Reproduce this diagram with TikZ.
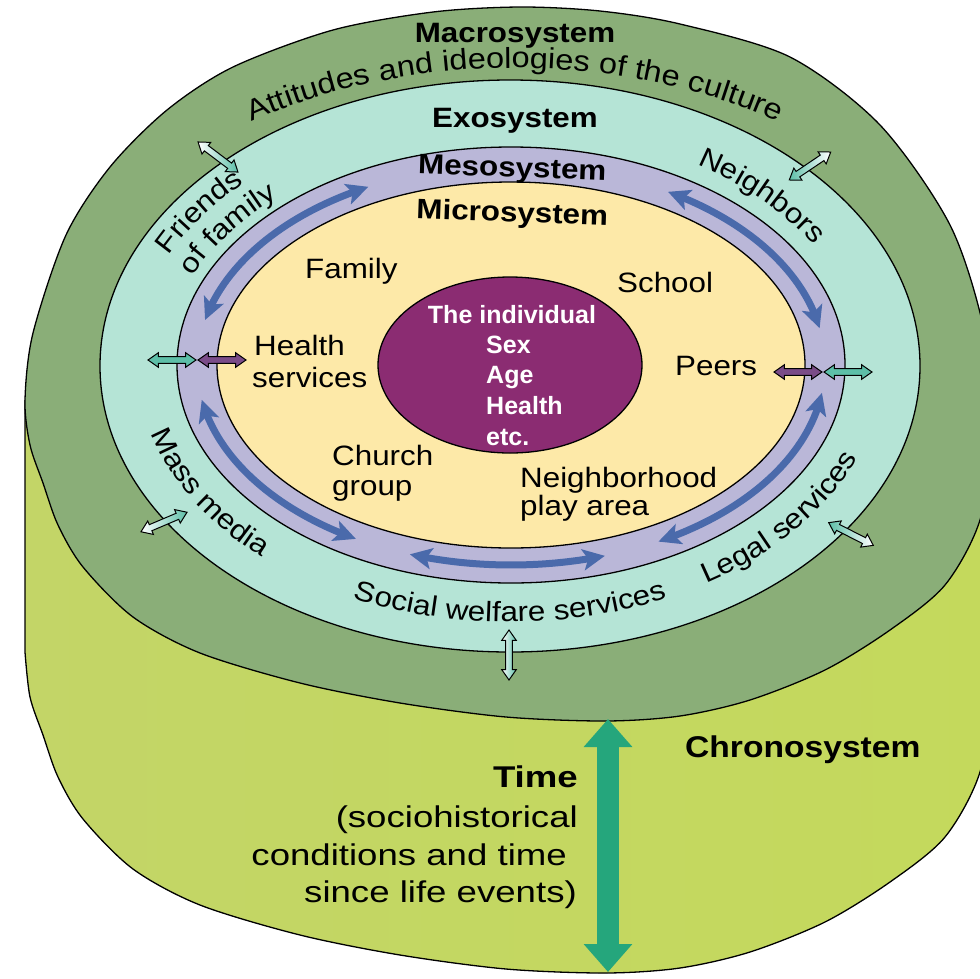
\documentclass[tikz,border=0pt]{standalone}
\usepackage{fontspec}
\setmainfont{Liberation Sans}[FakeStretch=1.12]
\newfontfamily\indivfont{Liberation Sans}
\newfontfamily\chronofont{Liberation Sans}[FakeStretch=1.22]
\usetikzlibrary{arrows.meta,bending,decorations.text,shapes.arrows,shapes.geometric}
\definecolor{macroC}{HTML}{8AAE78}
\definecolor{exoC}{HTML}{B5E4D6}
\definecolor{mesoC}{HTML}{BAB7D8}
\definecolor{microC}{HTML}{FDE9A8}
\definecolor{indivC}{HTML}{8B2C72}
\definecolor{cylL}{HTML}{C3D567}
\definecolor{cylM}{HTML}{ECF3BE}
\definecolor{cylR}{HTML}{C4D95C}
\definecolor{blueC}{HTML}{4A6AAB}
\definecolor{timeC}{HTML}{25A67C}
\definecolor{tealC}{HTML}{5DBFA8}
\definecolor{purpC}{HTML}{7A4C88}
\newcommand\labfont{\fontsize{28}{30}\selectfont}
\newcommand\arcfont{\fontsize{28}{30}\selectfont}
\newcommand\bigarcfont{\fontsize{29}{31}\selectfont}
\newcommand\mesoarc[2]{\draw[bluearr] ([shift={(#1:314 and 200)}]511,365) arc[start angle=#1, end angle=#2, x radius=314, y radius=200];}
\begin{document}
\begin{tikzpicture}[x=1pt,y=-1pt,
  outline/.style={draw=black, line width=1.3pt},
  bluearr/.style={draw=blueC, line width=7pt, {Stealth[length=22pt,width=21pt,inset=5pt]}-{Stealth[length=22pt,width=21pt,inset=5pt]}},
  smallarr/.style={double arrow, draw=black, line width=1pt, inner sep=2.8pt, double arrow head extend=4pt, double arrow tip angle=70, minimum height=50pt},
  lab/.style={font=\labfont, inner sep=0pt, anchor=base west},
  boldlab/.style={font=\labfont\bfseries, inner sep=0pt, anchor=base},
  indivtext/.style={font=\indivfont\fontsize{25}{27}\selectfont\bfseries, text=white, inner sep=0pt},
  chronotext/.style={font=\chronofont\fontsize{30}{32}\selectfont, inner sep=0pt, anchor=base east},
  timearr/.style={draw=timeC, line width=22pt, {Triangle[length=28pt,width=47pt]}-{Triangle[length=28pt,width=47pt]}},
  arctext/.style={decorate, decoration={text along path, text align=center, text={|\arcfont|#1}}},
  bigarctext/.style={decorate, decoration={text along path, text align=center, text={|\bigarcfont|#1}}}
]
\useasboundingbox (0,0) rectangle (980,978);
\clip (0,0) rectangle (980,978);

% cylinder side
\fill[left color=cylL, middle color=cylM, right color=cylR] (25,400) -- plot[smooth] coordinates {(25,652) (30,697) (43,735) (58,777) (83,819) (133,869) (200,905) (300,935) (400,955) (506,969) (606,973) (680,968) (750,952) (825,922) (890,882) (945,837) (980,772) (993,682)} -- (993,430) -- cycle;
\draw[outline] (25,400) -- plot[smooth] coordinates {(25,652) (30,697) (43,735) (58,777) (83,819) (133,869) (200,905) (300,935) (400,955) (506,969) (606,973) (680,968) (750,952) (825,922) (890,882) (945,837) (980,772) (993,682)};

% top: macrosystem
\filldraw[fill=macroC, outline] plot[smooth cycle] coordinates {(25,400) (33,333) (66,235) (110,167) (167,110) (233,67) (333,30) (433,12) (520,7) (600,11) (680,24) (790,57) (880,125) (950,225) (984,330) (993,430) (980,520) (945,585) (890,630) (825,670) (750,700) (680,716) (606,721) (506,717) (400,703) (300,683) (200,653) (133,617) (83,567) (58,525) (43,483) (30,445)};
% exosystem
\filldraw[fill=exoC, outline] (510,366) ellipse [x radius=410, y radius=286];
% mesosystem
\filldraw[fill=mesoC, outline] (511,365) ellipse [x radius=334, y radius=218];
% microsystem
\filldraw[fill=microC, outline] (511,365) ellipse [x radius=294, y radius=183];
% individual
\node[ellipse, draw=black, line width=1.3pt, fill=indivC, minimum width=264pt, minimum height=176pt, inner sep=0pt] (indiv) at (510,365) {};

% mesosystem arrows
\mesoarc{-167}{-117}
\mesoarc{-60}{-10.6}
\mesoarc{170}{119.6}
\mesoarc{108.8}{72.6}
\mesoarc{62}{8}

% small crossing arrows
\node[smallarr, rotate=-37, left color=white, right color=tealC] (aFriends) at (218,157) {};
\node[smallarr, rotate=34, left color=tealC, right color=white] (aNeigh) at (810,166) {};
\node[smallarr, rotate=23, left color=white, right color=tealC] (aMass) at (164,522) {};
\node[smallarr, rotate=-27, left color=tealC, right color=white] (aLegal) at (851,534) {};
\node[smallarr, rotate=90, left color=white, right color=tealC] (aSocial) at (509,655) {};
\node[smallarr, minimum height=48pt, fill=tealC] (aHealthE) at (172,360) {};
\node[smallarr, minimum height=48pt, fill=purpC] (aHealthM) at (222,360) {};
\node[smallarr, minimum height=48pt, fill=purpC] (aPeersM) at (798,372) {};
\node[smallarr, minimum height=48pt, fill=tealC] (aPeersE) at (848,372) {};

% time arrow
\coordinate (tTop) at (608,719);
\coordinate (tBot) at (608,972);
\draw[timearr] (tTop) -- (tBot);

% curved labels
\path[bigarctext={Attitudes and ideologies of the culture}] ([shift={(-150:458 and 297)}]515,365) arc[start angle=-150, end angle=-30, x radius=458, y radius=297];
\path[arctext={Friends}] ([shift={(-177:378 and 257)}]510,366) arc[start angle=-177, end angle=-117, x radius=378, y radius=257];
\path[arctext={of family}] ([shift={(-177:345 and 228)}]510,366) arc[start angle=-177, end angle=-117, x radius=345, y radius=228];
\path[arctext={Neighbors}] ([shift={(-72:352 and 238)}]510,366) arc[start angle=-72, end angle=-12, x radius=352, y radius=238];
\path[arctext={Mass media}] ([shift={(180:372 and 256)}]510,366) arc[start angle=180, end angle=120, x radius=372, y radius=256];
\path[arctext={Social welfare services}] ([shift={(135:372 and 256)}]510,366) arc[start angle=135, end angle=45, x radius=372, y radius=256];
\path[arctext={Legal services}] ([shift={(68:372 and 256)}]510,366) arc[start angle=68, end angle=8, x radius=372, y radius=256];

% system labels
\node[boldlab] (lMacro) at (515,42) {Macrosystem};
\node[boldlab] (lExo) at (515,127) {Exosystem};
\node[boldlab, rotate=-2] (lMeso) at (512,177) {Mesosystem};
\node[boldlab, rotate=-2] (lMicro) at (512,222) {Microsystem};
\node[font=\fontsize{30}{32}\selectfont\bfseries, inner sep=0pt, anchor=base west] (lChrono) at (685,757) {Chronosystem};

% microsystem labels
\node[lab] (lFamily) at (305,278) {Family};
\node[lab] (lSchool) at (617,292) {School};
\node[lab] (lPeers) at (675,375) {Peers};
\node[lab] (lHealth) at (254,355) {Health};
\node[lab] (lServices) at (252,387) {services};
\node[lab] (lChurch) at (332,465) {Church};
\node[lab] (lGroup) at (332,495) {group};
\node[lab] (lNeighb) at (520,487) {Neighborhood};
\node[lab] (lPlay) at (520,515) {play area};

% individual text
\node[indivtext, anchor=base] (iThe) at (512,323) {The individual};
\node[indivtext, anchor=base west] (iSex) at (486,353) {Sex};
\node[indivtext, anchor=base west] (iAge) at (486,383) {Age};
\node[indivtext, anchor=base west] (iHealth) at (486,414) {Health};
\node[indivtext, anchor=base west] (iEtc) at (486,445) {etc.};

% chronosystem text
\node[chronotext, font=\chronofont\fontsize{30}{32}\selectfont\bfseries] (cTime) at (578,787) {Time};
\node[chronotext] (cL1) at (578,827) {(sociohistorical};
\node[chronotext] (cL2) at (567,865) {conditions and time};
\node[chronotext] (cL3) at (577,902) {since life events)};
\end{tikzpicture}
\end{document}
